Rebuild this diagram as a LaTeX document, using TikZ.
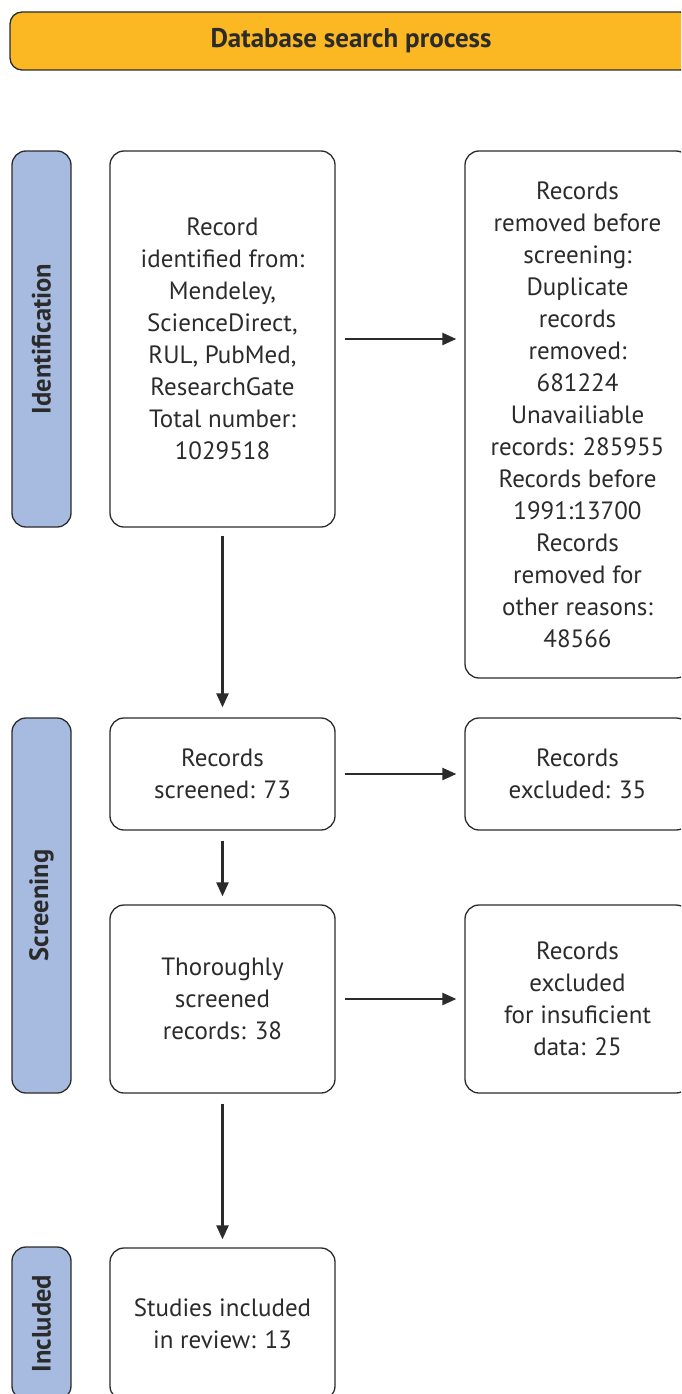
\documentclass[tikz,border=0pt]{standalone}
\usepackage{fontspec}
\setmainfont{PT Sans}
\usetikzlibrary{arrows.meta}
\definecolor{bannerfill}{HTML}{FBB822}
\definecolor{sidefill}{HTML}{A7BBE0}
\definecolor{ink}{HTML}{2B2B2B}
\begin{document}
\begin{tikzpicture}[x=1pt,y=-1pt,
  box/.style={draw=ink, line width=1.3pt, rounded corners=14pt, align=center,
    inner sep=0pt, font=\fontsize{25}{32}\selectfont, text=ink},
  sidebox/.style={draw=ink, line width=1.3pt, rounded corners=14pt, fill=sidefill,
    rotate=90, inner sep=0pt, minimum height=59pt,
    font=\bfseries\fontsize{26.5}{28}\selectfont, text=ink},
  arr/.style={draw=ink, line width=2.4pt, -{Triangle[length=14pt,width=12pt]}}]
\clip (0,0) rectangle (681,1394);
\useasboundingbox (0,0) rectangle (681,1394);

% banner
\node[draw=ink, line width=1.3pt, rounded corners=12pt, fill=bannerfill,
  minimum width=682pt, minimum height=58pt, inner sep=0pt,
  font=\bfseries\fontsize{27}{28}\selectfont, text=ink] (banner) at (351,41) {Database search process};

% side labels
\node[sidebox, minimum width=376pt] (ident) at (41.5,339) {Identification};
\node[sidebox, minimum width=375pt] (screen) at (41.5,905.5) {Screening};
\node[sidebox, minimum width=153pt] (incl) at (41.5,1323.5) {Included};

% left column
\node[box, minimum width=225pt, minimum height=376pt] (rec) at (222.5,339)
  {Record\\identified from:\\Mendeley,\\ScienceDirect,\\RUL, PubMed,\\ResearchGate\\Total number:\\1029518};
\node[box, minimum width=225pt, minimum height=112pt] (scr) at (222.5,774)
  {Records\\screened: 73};
\node[box, minimum width=225pt, minimum height=188pt] (thor) at (222.5,999)
  {Thoroughly\\screened\\records: 38};
\node[box, minimum width=225pt, minimum height=152pt] (stud) at (222.5,1324)
  {Studies included\\in review: 13};

% right column
\node[box, minimum width=225pt, minimum height=527pt] (rem) at (577.5,414.5)
  {Records\\removed before\\screening:\\Duplicate\\records\\removed:\\681224\\Unavailiable\\records: 285955\\Records before\\1991:13700\\Records\\removed for\\other reasons:\\48566};
\node[box, minimum width=225pt, minimum height=112pt] (exc) at (577.5,774)
  {Records\\excluded: 35};
\node[box, minimum width=225pt, minimum height=188pt] (insuf) at (577.5,999)
  {Records\\excluded\\for insuficient\\data: 25};

% connectors
\draw[arr, shorten <=9pt, shorten >=8pt] (rec.east) -- (rec.east -| rem.west);
\draw[arr, shorten <=9pt, shorten >=8pt] (scr.east) -- (exc.west);
\draw[arr, shorten <=9pt, shorten >=8pt] (thor.east) -- (insuf.west);
\draw[arr, shorten <=8pt, shorten >=10pt] (rec.south) -- (scr.north);
\draw[arr, shorten <=10pt, shorten >=8pt] (scr.south) -- (thor.north);
\draw[arr, shorten <=10pt, shorten >=8pt] (thor.south) -- (stud.north);
\end{tikzpicture}
\end{document}
